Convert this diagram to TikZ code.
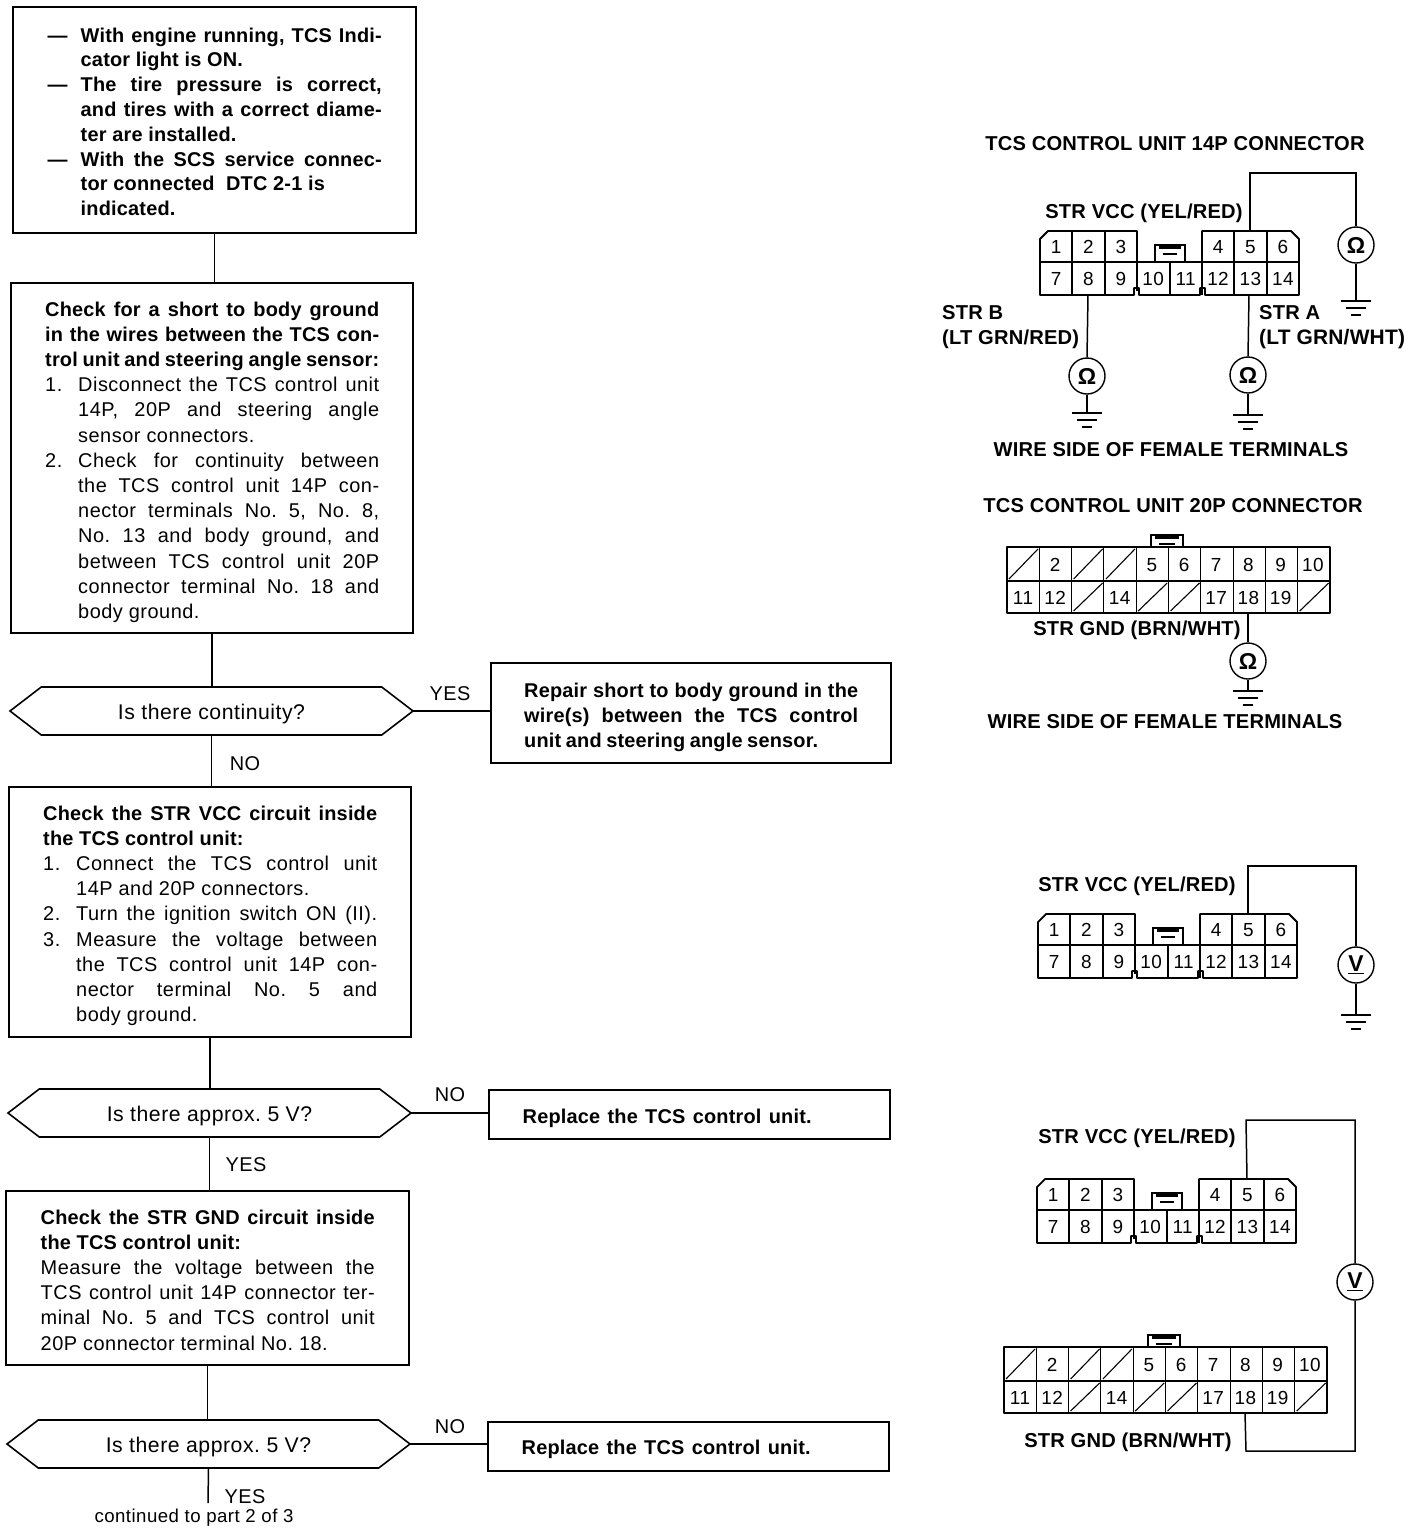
\documentclass[tikz,border=0pt]{standalone}
\usepackage{fontspec}
\setmainfont[LetterSpace=2.5,BoldFeatures={LetterSpace=1}]{Liberation Sans}
\usetikzlibrary{shapes.symbols}
\tikzset{
	stepbox/.style={draw, line width=1.6pt, inner sep=0pt},
	steptext/.style={anchor=north west, inner sep=0pt, text width=334bp, align=flush left, font=\fontsize{20}{25.3}\selectfont\frenchspacing},
	askbox/.style={draw, line width=1.6pt, inner sep=0pt, outer sep=0pt, signal, signal to=west and east, signal pointer angle=75, minimum width=403bp, minimum height=48bp, text height=19bp, text depth=3bp, font=\fontsize{21.3}{25}\selectfont\frenchspacing},
	branch/.style={font=\fontsize{20}{24}\selectfont},
	caption/.style={font=\fontsize{20.2}{24}\selectfont\bfseries},
	pinlabel/.style={inner sep=0pt, font=\fontsize{19}{22}\selectfont},
	meter/.style={draw, circle, line width=1.4pt, minimum size=36bp, inner sep=0pt, font=\fontsize{23}{24}\selectfont\bfseries},
	wire/.style={line width=1.5pt},
	shell/.style={line width=1.8pt, line join=round},
	cell/.style={line width=1.1pt}
}
% justified lines, all boxes have the same text width
\def\fl#1{\makebox[334bp][s]{#1}}
\def\il#1#2{\makebox[33bp][l]{#1}\makebox[301bp][s]{#2}}
\def\pl#1#2{\makebox[33bp][l]{#1}#2}
\def\groundat(#1){
	\draw[wire] (#1) ++(-15,0) -- ++(30,0);
	\draw[wire] (#1) ++(-10,7) -- ++(20,0);
	\draw[wire] (#1) ++(-5,14) -- ++(10,0);
}
\def\conntab(#1,#2)(#3,#4){
	\draw[wire] (#1,#4) -- (#1,#2) -- (#3,#2) -- (#3,#4);
	\fill ({#1+4},{#2+1}) rectangle ({#3-4},{#2+4});
	\fill ({#1+8},{#2+8}) rectangle ({#3-8},{#2+10});
}
\def\connfourteen#1(#2,#3){
	\begin{scope}[shift={(#2,#3)}]
		\draw[shell] (0,8) -- (8,0) -- (97,0) -- (97,31) -- (162,31) -- (162,0) -- (251,0) -- (259,8) -- (259,64)
			-- (165,64) -- (165,57) -- (160,57) -- (160,64) -- (99,64) -- (99,57) -- (94,57) -- (94,64) -- (0,64) -- cycle;
		\draw[cell] (0,31) -- (259,31);
		\foreach \x in {32,65,162,194,227} \draw[cell] (\x,0) -- (\x,64);
		\draw[cell] (97,31) -- (97,60);
		\draw[cell] (130,31) -- (130,64);
		\conntab(115,14)(145,31)
		\foreach \n/\c in {1/0,2/1,3/2,4/5,5/6,6/7} \node[pinlabel] (#1t\n) at ({16+32.4*\c},16) {\n};
		\foreach \n/\c in {7/0,8/1,9/2,10/3,11/4,12/5,13/6,14/7} \node[pinlabel] (#1t\n) at ({16+32.4*\c},48) {\n};
		\coordinate (#1pin5) at (210,0);
		\coordinate (#1pin8) at (48,64);
		\coordinate (#1pin13) at (209,64);
	\end{scope}
}
\def\conntwenty#1(#2,#3){
	\begin{scope}[shift={(#2,#3)}]
		\draw[shell] (0,0) rectangle (323,66);
		\draw[cell] (0,34) -- (323,34);
		\foreach \c in {1,...,9} \draw[cell] ({32.3*\c},0) -- ({32.3*\c},66);
		\conntab(144,-12)(176,0)
		\foreach \c in {0,2,3} \draw[cell] ({32.3*\c+2},32) -- ({32.3*\c+31},2);
		\foreach \c in {2,4,5,9} \draw[cell] ({32.3*\c+2},64) -- ({32.3*\c+31},36);
		\foreach \n/\c in {2/1,5/4,6/5,7/6,8/7,9/8,10/9} \node[pinlabel] (#1t\n) at ({16+32.2*\c},18) {\n};
		\foreach \n/\c in {11/0,12/1,14/3,17/6,18/7,19/8} \node[pinlabel] (#1b\n) at ({16+32.2*\c},51) {\n};
		\coordinate (#1pin18) at (241,66);
	\end{scope}
}
\begin{document}
\begin{tikzpicture}[x=1bp,y=-1bp]
	\useasboundingbox (0,0) rectangle (1424,1530);
	%%%%% FLOW %%%%%

	\node[stepbox, minimum width=403bp, minimum height=226bp] (cond) at (214.5,120) {};
	\node[steptext, font=\fontsize{20}{24.9}\selectfont\frenchspacing\bfseries] (condtext) at (47.5,27.5) {
		\il{---}{With engine running, TCS Indi-}\\
		\pl{}{cator light is ON.}\\
		\il{---}{The tire pressure is correct,}\\
		\il{}{and tires with a correct diame-}\\
		\pl{}{ter are installed.}\\
		\il{---}{With the SCS service connec-}\\
		\pl{}{tor connected\ \ DTC 2-1 is}\\
		\pl{}{indicated.}};

	\node[stepbox, minimum width=402bp, minimum height=350bp] (shortchk) at (212,458) {};
	\node[steptext] (shortchktext) at (45,301.5) {
		\textbf{\fl{Check for a short to body ground}}\\
		\textbf{\fl{in the wires between the TCS con-}}\\
		\textbf{\fl{trol unit and steering angle sensor:}}\\
		\il{1.}{Disconnect the TCS control unit}\\
		\il{}{14P, 20P and steering angle}\\
		\pl{}{sensor connectors.}\\
		\il{2.}{Check for continuity between}\\
		\il{}{the TCS control unit 14P con-}\\
		\il{}{nector terminals No. 5, No. 8,}\\
		\il{}{No. 13 and body ground, and}\\
		\il{}{between TCS control unit 20P}\\
		\il{}{connector terminal No. 18 and}\\
		\pl{}{body ground.}};

	\node[askbox] (ask1) at (211.5,711) {Is there continuity?};

	\node[stepbox, minimum width=400bp, minimum height=100bp] (repair) at (691,713) {};
	\node[steptext, font=\fontsize{20}{25.3}\selectfont\frenchspacing\bfseries] (repairtext) at (524,682.5) {
		\fl{Repair short to body ground in the}\\
		\fl{wire(s) between the TCS control}\\
		\makebox[294bp][s]{unit and steering angle sensor.}};

	\node[stepbox, minimum width=402bp, minimum height=250bp] (vccchk) at (210,912) {};
	\node[steptext] (vccchktext) at (43,805.5) {
		\textbf{\fl{Check the STR VCC circuit inside}}\\
		\textbf{the TCS control unit:}\\
		\il{1.}{Connect the TCS control unit}\\
		\pl{}{14P and 20P connectors.}\\
		\il{2.}{Turn the ignition switch ON (II).}\\
		\il{3.}{Measure the voltage between}\\
		\il{}{the TCS control unit 14P con-}\\
		\il{}{nector terminal No. 5 and}\\
		\pl{}{body ground.}};

	\node[askbox] (ask2) at (209.5,1113) {Is there approx. 5 V?};

	\node[stepbox, minimum width=401bp, minimum height=49bp] (replace1) at (689.5,1114.5) {};
	\node[steptext, font=\fontsize{20}{25.3}\selectfont\frenchspacing\bfseries] (replace1text) at (522.5,1108.5) {\makebox[289bp][s]{Replace the TCS control unit.}};

	\node[stepbox, minimum width=403bp, minimum height=174bp] (gndchk) at (207.5,1278) {};
	\node[steptext] (gndchktext) at (40.5,1209.5) {
		\textbf{\fl{Check the STR GND circuit inside}}\\
		\textbf{the TCS control unit:}\\
		\fl{Measure the voltage between the}\\
		\fl{TCS control unit 14P connector ter-}\\
		\fl{minal No. 5 and TCS control unit}\\
		20P connector terminal No. 18.};

	\node[askbox] (ask3) at (208.5,1444) {Is there approx. 5 V?};

	\node[stepbox, minimum width=401bp, minimum height=49bp] (replace2) at (688.5,1446.5) {};
	\node[steptext, font=\fontsize{20}{25.3}\selectfont\frenchspacing\bfseries] (replace2text) at (521.5,1439.5) {\makebox[289bp][s]{Replace the TCS control unit.}};

	\coordinate (contd) at (208,1503);

	\draw[wire] (cond.south) -- (cond.south |- shortchk.north);
	\draw[wire] (shortchk.south) -- (shortchk.south |- ask1.north);
	\draw[wire] (ask1.south) -- (ask1.south |- vccchk.north);
	\draw[wire] (ask1.east) -- (ask1.east -| repair.west);
	\draw[wire] (vccchk.south) -- (vccchk.south |- ask2.north);
	\draw[wire] (ask2.south) -- (ask2.south |- gndchk.north);
	\draw[wire] (ask2.east) -- (ask2.east -| replace1.west);
	\draw[wire] (gndchk.south) -- (gndchk.south |- ask3.north);
	\draw[wire] (ask3.south) -- (contd);
	\draw[wire] (ask3.east) -- (ask3.east -| replace2.west);

	\node[branch] (yes1) at (450,694) {YES};
	\node[branch] (no1) at (245,764) {NO};
	\node[branch] (no2) at (450,1095) {NO};
	\node[branch] (yes2) at (246,1165) {YES};
	\node[branch] (no3) at (450,1427) {NO};
	\node[branch] (yes3) at (245,1497) {YES};
	\node[font=\fontsize{18.7}{20}\selectfont, inner sep=0pt] (contdtext) at (194,1518) {continued to part 2 of 3};

	%%%%% 14P OHM CHECK %%%%%

	\node[caption] (capa) at (1175,144) {TCS CONTROL UNIT 14P CONNECTOR};
	\node[caption] (vcca) at (1144,213) {STR VCC (YEL/RED)};
	\connfourteen a(1040,231)
	\node[caption, anchor=west, inner sep=0pt] (strb) at (942,313) {STR B};
	\node[caption, anchor=west, inner sep=0pt] (strbw) at (942,339) {(LT GRN/RED)};
	\node[caption, anchor=west, inner sep=0pt] (stra) at (1259,313) {STR A};
	\node[caption, font=\fontsize{21}{24}\selectfont\bfseries, anchor=west, inner sep=0pt] (straw) at (1259,339) {(LT GRN/WHT)};

	\node[meter] (ohma) at (1356,245) {Ω};
	\node[meter] (ohmb) at (1087,376) {Ω};
	\node[meter] (ohmc) at (1248,375) {Ω};
	\coordinate (topa) at (1250,173);
	\coordinate (gnda) at (1356,301);
	\coordinate (gndb) at (1087,413);
	\coordinate (gndc) at (1248,415);
	\draw[wire] (apin5) -- (topa) -| (ohma.north);
	\draw[wire] (ohma.south) -- (gnda);
	\draw[wire] (apin8) -- (ohmb.north);
	\draw[wire] (ohmb.south) -- (gndb);
	\draw[wire] (apin13) -- (ohmc.north);
	\draw[wire] (ohmc.south) -- (gndc);
	\groundat(gnda)
	\groundat(gndb)
	\groundat(gndc)
	\node[caption] (wirea) at (1171,450) {WIRE SIDE OF FEMALE TERMINALS};

	%%%%% 20P OHM CHECK %%%%%

	\node[caption] (capb) at (1173,506) {TCS CONTROL UNIT 20P CONNECTOR};
	\conntwenty b(1007,547)
	\node[caption] (gndname) at (1137,630) {STR GND (BRN/WHT)};
	\node[meter] (ohmd) at (1248,661) {Ω};
	\coordinate (gndd) at (1248,691);
	\draw[wire] (bpin18) -- (ohmd.north);
	\draw[wire] (ohmd.south) -- (gndd);
	\groundat(gndd)
	\node[caption] (wireb) at (1165,722) {WIRE SIDE OF FEMALE TERMINALS};

	%%%%% VCC VOLTAGE %%%%%

	\node[caption] (vccc) at (1137,886) {STR VCC (YEL/RED)};
	\connfourteen c(1038,914)
	\node[meter] (volta) at (1356,965) {\underline{V}};
	\coordinate (topc) at (1248,866);
	\coordinate (gnde) at (1356,1015);
	\draw[wire] (cpin5) -- (topc) -| (volta.north);
	\draw[wire] (volta.south) -- (gnde);
	\groundat(gnde)

	%%%%% GND VOLTAGE %%%%%

	\node[caption] (vccd) at (1137,1138) {STR VCC (YEL/RED)};
	\connfourteen d(1037,1179)
	\conntwenty e(1004,1347)
	\node[meter] (voltb) at (1355,1282) {\underline{V}};
	\coordinate (topd) at (1246,1120);
	\coordinate (bote) at (1246,1451);
	\draw[wire] (dpin5) -- (topd) -| (voltb.north);
	\draw[wire] (epin18) -- (bote) -| (voltb.south);
	\node[caption] (gndnameb) at (1128,1442) {STR GND (BRN/WHT)};

	%%%%% END %%%%%
\end{tikzpicture}
\end{document}
